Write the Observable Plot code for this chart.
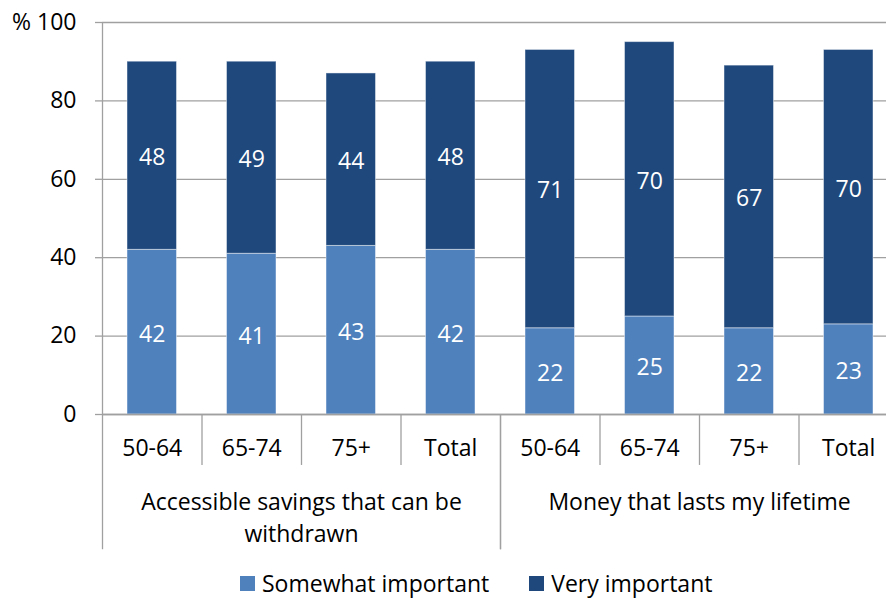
<!DOCTYPE html>
<html>
<head>
<meta charset="utf-8">
<script src="https://cdn.jsdelivr.net/npm/d3@7"></script>
<script src="https://cdn.jsdelivr.net/npm/@observablehq/plot@0.6"></script>
<style>
  html, body { margin: 0; padding: 0; background: #fff; overflow: hidden; }
  #chart { position: relative; width: 886px; height: 599px; overflow: hidden; font-family: "Open Sans", Lato, sans-serif; }
  #chart svg { position: absolute; left: 0; top: 0; max-width: none !important; }
  #legend { position: absolute; left: 240px; top: 572px; display: flex; align-items: center; font-size: 23px; line-height: 22px; color: #000; white-space: nowrap; }
  #legend .item { display: flex; align-items: center; }
  #legend .swatch { width: 15px; height: 15px; margin-right: 7px; }
</style>
</head>
<body>
<div id="chart"></div>
<script>
// Survey answers: share rating each feature as important, by age band
const groups = ["Accessible savings that can be\nwithdrawn", "Money that lasts my lifetime"];
const ages = ["50-64", "65-74", "75+", "Total"];
const somewhatImportant = [42, 41, 43, 42, 22, 25, 22, 23];
const veryImportant = [48, 49, 44, 48, 71, 70, 67, 70];
const seriesNames = ["Somewhat important", "Very important"];
const seriesColors = ["#4F81BD", "#1F497D"];
const yTicks = [0, 20, 40, 60, 80, 100];

// One slot per (group, age band) pair, left to right
const slots = groups.flatMap((g, gi) => ages.map((a, ai) => ({group: g, age: a, slot: gi * ages.length + ai})));

// Long table for stacking: bottom series first
const rows = [
  ...somewhatImportant.map((v, i) => ({slot: i, series: seriesNames[0], value: v})),
  ...veryImportant.map((v, i) => ({slot: i, series: seriesNames[1], value: v}))
];

const groupLabels = groups.map((g, gi) => ({label: g, mid: gi * ages.length + ages.length / 2}));
const innerEdges = slots.filter(s => s.slot % ages.length !== 0).map(s => s.slot);
const groupEdges = groups.flatMap((g, gi) => [gi * ages.length, (gi + 1) * ages.length]);

const gridColor = "#a0a0a0";
const fontFamily = "'Open Sans', Lato, sans-serif";
const fs = 23;

const chart = Plot.plot({
  width: 898,
  height: 560,
  marginTop: 22,
  marginBottom: 146,
  marginLeft: 102,
  marginRight: 0,
  style: {fontFamily, fontSize: fs + "px", color: "#000", background: "transparent", overflow: "visible"},
  x: {type: "linear", domain: [0, slots.length], axis: null},
  y: {domain: [0, 100], axis: null},
  color: {domain: seriesNames, range: seriesColors},
  marks: [
    Plot.gridY(yTicks, {stroke: gridColor, strokeOpacity: 1, strokeWidth: 1.3}),
    Plot.axisY(yTicks, {
      label: null, tickSize: 7, tickPadding: 19, stroke: gridColor, strokeWidth: 1.3, fill: "#000", fontSize: fs,
      tickFormat: d => d === 100 ? "% 100" : String(d)
    }),
    Plot.rectY(rows, Plot.stackY({
      x: "slot", interval: 1, y: "value", fill: "series",
      insetLeft: 25, insetRight: 25,
      stroke: "#fff", strokeOpacity: 0.45, strokeWidth: 1
    })),
    Plot.text(rows, Plot.stackY({
      x: d => d.slot + 0.5, y: "value", text: d => String(d.value),
      fill: "#fff", fontSize: fs, dy: 2
    })),
    // axis lines
    Plot.ruleX([0], {stroke: gridColor, strokeWidth: 1.3}),
    Plot.ruleY([0], {stroke: gridColor, strokeWidth: 1.3}),
    // two-level category axis below the bars
    Plot.ruleX(innerEdges, {y1: 0, y2: -13, stroke: gridColor, strokeWidth: 1.3}),
    Plot.ruleX(groupEdges, {y1: 0, y2: -34.5, stroke: gridColor, strokeWidth: 1.3}),
    Plot.text(slots, {
      x: d => d.slot + 0.5, text: "age", frameAnchor: "bottom", lineAnchor: "top",
      dy: 25, fontSize: fs, fill: "#000"
    }),
    Plot.text(groupLabels, {
      x: "mid", text: "label", frameAnchor: "bottom", lineAnchor: "top",
      dy: 72, lineHeight: 1.42, fontSize: fs, fill: "#000"
    })
  ]
});

const root = document.getElementById("chart");
root.appendChild(chart);

// Legend below the plot
const legend = document.createElement("div");
legend.id = "legend";
seriesNames.forEach((name, i) => {
  const item = document.createElement("div");
  item.className = "item";
  if (i > 0) item.style.marginLeft = "40px";
  const sw = document.createElement("span");
  sw.className = "swatch";
  sw.style.background = seriesColors[i];
  const label = document.createElement("span");
  label.textContent = name;
  item.appendChild(sw);
  item.appendChild(label);
  legend.appendChild(item);
});
root.appendChild(legend);
</script>
</body>
</html>
